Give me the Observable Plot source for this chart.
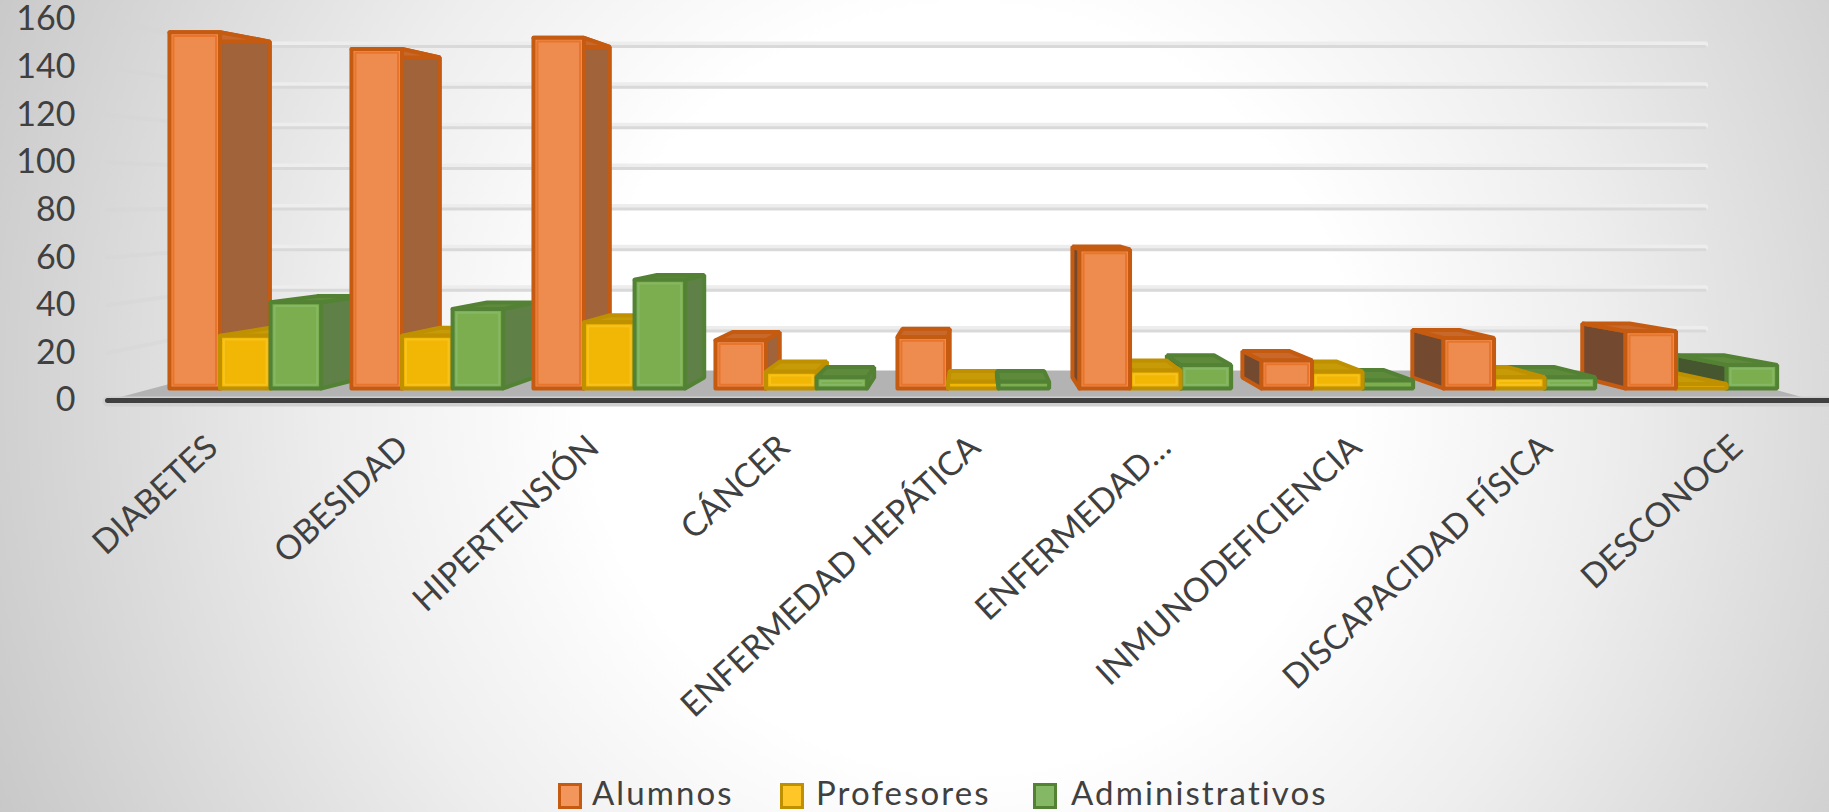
<!DOCTYPE html>
<html lang="es"><head><meta charset="utf-8">
<script src="https://cdn.jsdelivr.net/npm/d3@7"></script>
<script src="https://cdn.jsdelivr.net/npm/@observablehq/plot@0.6"></script>
<style>
html,body{margin:0;padding:0;width:1829px;height:812px;overflow:hidden;
background:radial-gradient(circle 1060px at 53% 48%,#fff 0%,#fff 36%,#eeeeee 60%,#d9d9d9 82%,#c8c8c8 100%);}
#chart svg{display:block;background:transparent!important}
#legend{height:52px;position:relative;font:33px Lato,sans-serif;color:#404040;letter-spacing:2.1px}
#legend span{position:absolute;top:13px;line-height:38px;white-space:nowrap}
#legend i{display:block;position:absolute;top:23px;width:18px;height:20px;border:3.5px solid;box-sizing:content-box}
</style></head><body>
<div id="chart"></div><div id="legend"></div>
<script>
const categories=["DIABETES","OBESIDAD","HIPERTENSIÓN","CÁNCER","ENFERMEDAD HEPÁTICA","ENFERMEDAD…","INMUNODEFICIENCIA","DISCAPACIDAD FÍSICA","DESCONOCE"];
const seriesNames=["Alumnos","Profesores","Administrativos"];
const alumnos=[159,151.5,156.5,21.5,23,62,12.5,22.5,25.5];
const profesores=[23.5,23.5,29.5,7.5,3,8,7.5,5,2];
const administrativos=[38.5,35.5,48.5,5,3,10.5,3.5,5,10.5];
const yTicks=[0,20,40,60,80,100,120,140,160];
const seriesValues=[alumnos,profesores,administrativos];
const palette=[
 {front:"#EE8C4F",inner:"#E8752B",edge:"#C55A11",top:"#C8682A",right:"#A0633A",left:"#734A30"},
 {front:"#F2B705",inner:"#F7C21C",edge:"#BF9000",top:"#C79A08",right:"#B08A10",left:"#7D6410"},
 {front:"#7CAD4E",inner:"#85B864",edge:"#548235",top:"#5E8A3C",right:"#5F8148",left:"#46572F"}];

// Perspective: depth planes as scale factors toward the vanishing point (in scale units).
const vp={x:4.5,v:85.7};
const plane={front:{sx:.9596,sy:.941},back:{sx:.896,sy:.887},wall:{sx:.87,sy:.853},near:{sx:1,sy:1}};
const P=(u,v,p)=>({x:vp.x+(u-vp.x)*p.sx,y:vp.v+(v-vp.v)*p.sy});
const groupWidth=.8333, barW=groupWidth/3, room=[-.065,8.935];

// faces, painted from the outside in toward the vanishing point
const faces=[];
const addFace=(id,pts,fill,stroke,w=4)=>{[...pts,pts[0]].forEach(p=>faces.push({id,x:p.x,y:p.y,fill,stroke,w}));};
const order=[0,1,2,3,8,7,6,5,4];
order.forEach(i=>{
  const js=i<=4?[0,1,2]:[2,1,0];
  js.forEach(j=>{
    const v=seriesValues[j][i],c=palette[j],u0=i+(1-groupWidth)/2+j*barW,u1=u0+barW,id=i+"-"+j;
    const F=plane.front,B=plane.back;
    if(P(u1,0,F).x<P(u1,0,B).x) addFace(id+"r",[P(u1,0,F),P(u1,v,F),P(u1,v,B),P(u1,0,B)],c.right,c.edge);
    if(P(u0,0,F).x>P(u0,0,B).x) addFace(id+"l",[P(u0,0,F),P(u0,v,F),P(u0,v,B),P(u0,0,B)],c.left,c.edge);
    addFace(id+"t",[P(u0,v,F),P(u1,v,F),P(u1,v,B),P(u0,v,B)],c.top,c.edge);
    addFace(id+"f",[P(u0,0,F),P(u1,0,F),P(u1,v,F),P(u0,v,F)],c.front,c.edge);
    if(v>4){const du=.022,dv=1.7;
      addFace(id+"i",[P(u0+du,dv,F),P(u1-du,dv,F),P(u1-du,v-dv,F),P(u0+du,v-dv,F)],c.front,c.inner,2);}
  });
});
const floor=[P(room[0],0,plane.near),P(room[1],0,plane.near),P(room[1],0,plane.wall),P(room[0],0,plane.wall),P(room[0],0,plane.near)];
const backLines=yTicks.slice(1).flatMap(t=>[room[0],room[1]].map(u=>({t,...P(u,t,plane.wall)})));
const wallLines=yTicks.slice(1).flatMap(t=>[plane.near,plane.wall].map(p=>({t,...P(room[0],t,p)})));

const plot=Plot.plot({
  width:1829,height:760,marginLeft:78,marginTop:0,marginBottom:0,marginRight:0,
  x:{domain:[0,9],range:[119.3,1826.3],axis:null},
  y:{domain:[0,160],range:[400,19]},
  color:{type:"identity"},
  style:{fontFamily:"Lato, sans-serif",background:"transparent",overflow:"visible"},
  marks:[
    Plot.line(wallLines,{x:"x",y:"y",z:"t",stroke:"#d4d4d4",strokeWidth:4,strokeOpacity:.4}),
    Plot.line(backLines,{x:"x",y:"y",z:"t",stroke:"#ededed",strokeWidth:6,dy:-1}),
    Plot.line(backLines,{x:"x",y:"y",z:"t",stroke:"#d9d9d9",strokeWidth:3,dy:1}),
    Plot.line(floor,{x:"x",y:"y",fill:"#b3b3b3",stroke:"none"}),
    Plot.line([{x:room[0],y:0},{x:9.02,y:0}],{x:"x",y:"y",stroke:"#d0d0d0",strokeWidth:10,dy:1}),
    Plot.line([{x:room[0],y:0},{x:9.02,y:0}],{x:"x",y:"y",stroke:"#404040",strokeWidth:5}),
    Plot.line(faces,{x:"x",y:"y",z:"id",fill:"fill",stroke:"stroke",strokeWidth:"w",strokeLinejoin:"miter",curve:"linear"}),
    Plot.axisY(yTicks,{tickSize:0,tickPadding:3,fontSize:34,fill:"#404040",label:null}),
    Plot.text(categories,{x:(d,i)=>vp.x+(i+.54-vp.x)*1.005,y:()=>-17.5,dx:-6,text:d=>d,rotate:-43,textAnchor:"end",lineAnchor:"middle",fontSize:33.5,fill:"#404040",letterSpacing:"1px"})
  ]
});
document.getElementById("chart").append(plot);
const lg=document.getElementById("legend");
const swX=[558,780,1033],txX=[592,816,1071];
seriesNames.forEach((n,j)=>{
  const sw=document.createElement("i");sw.style.left=swX[j]+"px";sw.style.background=["#F2965C","#FFC627","#85B864"][j];sw.style.borderColor=palette[j].edge;lg.append(sw);
  const s=document.createElement("span");s.textContent=n;s.style.left=txX[j]+"px";lg.append(s);
});
</script></body></html>
